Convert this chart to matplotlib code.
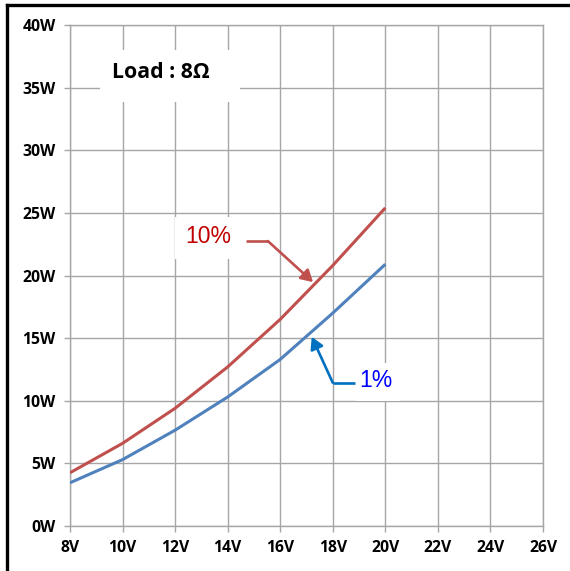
import matplotlib
matplotlib.use("Agg")
import matplotlib.pyplot as plt
from matplotlib.patches import Rectangle, FancyArrowPatch
from matplotlib.lines import Line2D

volts = [8, 10, 12, 14, 16, 18, 20]
power_10pct = [4.25, 6.6, 9.4, 12.7, 16.5, 20.8, 25.4]
power_1pct = [3.45, 5.3, 7.65, 10.3, 13.3, 17.0, 20.9]
x_ticks = [8, 10, 12, 14, 16, 18, 20, 22, 24, 26]
x_labels = [f"{v}V" for v in x_ticks]
y_ticks = [0, 5, 10, 15, 20, 25, 30, 35, 40]
y_labels = [f"{v}W" for v in y_ticks]

plt.rcParams['font.family'] = ['Open Sans', 'DejaVu Sans']

fig = plt.figure(figsize=(5.70, 5.71), dpi=100)
ax = fig.add_axes([70/570, 1-526/571, 473/570, 501/571])

grid_c = '#A6A6A6'
ax.set_xlim(8, 26)
ax.set_ylim(0, 40)
ax.set_xticks(x_ticks)
ax.set_xticklabels(x_labels, fontsize=11.3, fontweight='bold')
ax.set_yticks(y_ticks)
ax.set_yticklabels(y_labels, fontsize=11.3, fontweight='bold')
ax.tick_params(axis='both', length=4.3, width=1, color=grid_c, pad=6)
ax.grid(True, color=grid_c, linewidth=1)
ax.set_axisbelow(True)
for s in ax.spines.values():
    s.set_color(grid_c)
    s.set_linewidth(1)

ax.plot(volts, power_10pct, color='#C0504D', linewidth=2.2, zorder=3,
        solid_capstyle='butt', solid_joinstyle='round')
ax.plot(volts, power_1pct, color='#4F81BD', linewidth=2.2, zorder=3,
        solid_capstyle='butt', solid_joinstyle='round')

# white label boxes
ax.add_patch(Rectangle((9.14, 33.84), 5.33, 4.16, facecolor='white', edgecolor='none', zorder=2))
ax.text(11.46, 36.2, "Load : 8Ω", fontsize=15.3, fontweight='bold', ha='center', va='center', zorder=4)

ax.add_patch(Rectangle((12.0, 21.3), 2.6, 3.4, facecolor='white', edgecolor='none', zorder=2))
ax.text(13.25, 23.1, "10%", fontsize=16.5, color='#C00000', ha='center', va='center', zorder=4,
        family=['Liberation Sans', 'DejaVu Sans'])

ax.add_patch(Rectangle((18.9, 10.0), 1.65, 3.0, facecolor='white', edgecolor='none', zorder=2))
ax.text(19.65, 11.65, "1%", fontsize=16.5, color='#0000FF', ha='center', va='center', zorder=4,
        family=['Liberation Sans', 'DejaVu Sans'])

# arrows
ax.plot([14.70, 15.53], [22.75, 22.75], color='#C0504D', linewidth=1.9, zorder=4, solid_capstyle='butt')
ax.add_patch(FancyArrowPatch((15.53, 22.75), (17.25, 19.47), arrowstyle='-|>,head_length=7,head_width=4',
                             color='#C0504D', linewidth=1.9, shrinkA=0, shrinkB=0, zorder=4))
ax.plot([18.84, 18.0], [11.44, 11.44], color='#0070C0', linewidth=1.9, zorder=4, solid_capstyle='butt')
ax.add_patch(FancyArrowPatch((18.0, 11.44), (17.2, 15.1), arrowstyle='-|>,head_length=7,head_width=4',
                             color='#0070C0', linewidth=1.9, shrinkA=0, shrinkB=0, zorder=4))

# figure frame (left and top)
fig.add_artist(Line2D([7/570, 7/570], [0, 1-5/571], color='black', linewidth=2.4, transform=fig.transFigure))
fig.add_artist(Line2D([7/570, 1], [1-5/571, 1-5/571], color='black', linewidth=2.4, transform=fig.transFigure))

fig.savefig("out.png", dpi=100)
